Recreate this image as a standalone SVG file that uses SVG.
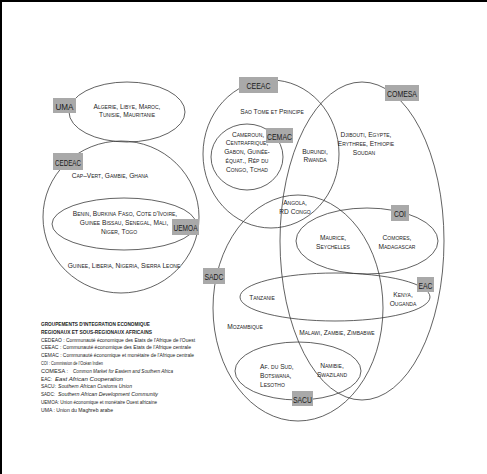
<svg xmlns="http://www.w3.org/2000/svg" width="487" height="474" viewBox="0 0 487 474">
<style>
.e{fill:none;stroke:#3a3a3a;stroke-width:0.8}
.b{fill:#a9a9a9}
.bl{font-family:"Liberation Sans Narrow","Liberation Sans",Arial,sans-serif;font-size:9.5px;fill:#1a1a1a;text-anchor:middle}
.c{font-family:"Liberation Sans","Arial",sans-serif;font-size:6.6px;font-variant:small-caps;fill:#222;text-anchor:middle}
.cl{text-anchor:start}
.lg{font-family:"Liberation Sans Narrow","Liberation Sans",Arial,sans-serif;font-size:6px;fill:#222}
.bo{font-weight:bold}
.it{font-style:italic}
</style>
<rect x="0" y="0" width="487" height="474" fill="#fff"/>
<path d="M1 474V1H487" fill="none" stroke="#000" stroke-width="2"/>
<g id="connectors"/>
<g id="uma">
<ellipse class="e" cx="127" cy="112" rx="58" ry="30"/>
<rect class="b" x="53" y="98" width="23" height="15"/>
<text class="bl" x="64.5" y="109.5" textLength="18" lengthAdjust="spacingAndGlyphs">UMA</text>
<text class="c" x="127" y="109">Algerie, Libye, Maroc,</text>
<text class="c" x="127" y="117">Tunisie, Mauritanie</text>
</g>
<g id="cedeac">
<ellipse class="e" cx="121" cy="217" rx="78" ry="76"/>
<rect class="b" x="53" y="153" width="30" height="17"/>
<text class="bl" x="68" y="165.5" textLength="26" lengthAdjust="spacingAndGlyphs">CEDEAC</text>
<text class="c" x="110" y="178">Cap–Vert, Gambie, Ghana</text>
<text class="c" x="124" y="268">Guinee, Liberia, Nigeria, Sierra Leone</text>
</g>
<g id="uemoa">
<ellipse class="e" cx="124" cy="224" rx="72" ry="26"/>
<rect class="b" x="172" y="219" width="27" height="16"/>
<text class="bl" x="185.5" y="231" textLength="24" lengthAdjust="spacingAndGlyphs">UEMOA</text>
<text class="c" x="125" y="216">Benin, Burkina Faso, Cote d'Ivoire,</text>
<text class="c" x="124" y="225">Guinee Bissau, Senegal, Mali,</text>
<text class="c" x="119" y="234">Niger, Togo</text>
</g>
<g id="ceeac">
<ellipse class="e" cx="271" cy="154" rx="68" ry="74"/>
<rect class="b" x="239" y="77" width="39" height="16"/>
<text class="bl" x="258.5" y="88.5" textLength="24" lengthAdjust="spacingAndGlyphs">CEEAC</text>
<text class="c" x="272" y="114">Sao Tome et Principe</text>
<text class="c" x="315" y="153.5">Burundi,</text>
<text class="c" x="315" y="162">Rwanda</text>
<text class="c" x="295" y="205">Angola,</text>
<text class="c" x="295" y="214">RD Congo</text>
</g>
<g id="cemac">
<ellipse class="e" cx="247" cy="157" rx="36" ry="33"/>
<rect class="b" x="266" y="128" width="27" height="15"/>
<text class="bl" x="279.5" y="139.5" textLength="25" lengthAdjust="spacingAndGlyphs">CEMAC</text>
<text class="c" x="248" y="136.5">Cameroun,</text>
<text class="c" x="247" y="145.3">Centrafrique,</text>
<text class="c" x="247" y="154.1">Gabon, Guinée-</text>
<text class="c" x="247" y="162.9">équat., Rép du</text>
<text class="c" x="247" y="171.7">Congo, Tchad</text>
</g>
<g id="comesa">
<ellipse class="e" cx="362" cy="241" rx="82" ry="159"/>
<rect class="b" x="385" y="85" width="34" height="16"/>
<text class="bl" x="402" y="96.5" textLength="30" lengthAdjust="spacingAndGlyphs">COMESA</text>
<text class="c" x="366" y="137">Djibouti, Egypte,</text>
<text class="c" x="366" y="146">Erythree, Ethiopie</text>
<text class="c" x="364" y="155">Soudan</text>
</g>
<g id="sadc">
<ellipse class="e" cx="298" cy="308" rx="85" ry="113"/>
<rect class="b" x="203" y="268" width="22" height="16"/>
<text class="bl" x="214" y="279.5" textLength="19" lengthAdjust="spacingAndGlyphs">SADC</text>
<text class="c" x="245" y="329">Mozambique</text>
<text class="c" x="337" y="335">Malawi, Zambie, Zimbabwe</text>
</g>
<g id="coi">
<ellipse class="e" cx="367" cy="241" rx="71" ry="33"/>
<rect class="b" x="391" y="205" width="18" height="16"/>
<text class="bl" x="400" y="216.5" textLength="12" lengthAdjust="spacingAndGlyphs">COI</text>
<text class="c" x="333" y="240">Maurice,</text>
<text class="c" x="333" y="249">Seychelles</text>
<text class="c" x="397" y="240">Comores,</text>
<text class="c" x="397" y="249">Madagascar</text>
</g>
<g id="eac">
<ellipse class="e" cx="335" cy="297" rx="95" ry="24"/>
<rect class="b" x="417" y="277" width="17" height="15"/>
<text class="bl" x="425.5" y="288.5" textLength="14" lengthAdjust="spacingAndGlyphs">EAC</text>
<text class="c" x="262" y="300">Tanzanie</text>
<text class="c" x="403" y="297">Kenya,</text>
<text class="c" x="403" y="306">Ouganda</text>
</g>
<g id="sacu">
<ellipse class="e" cx="298" cy="371" rx="63" ry="29"/>
<rect class="b" x="292" y="391" width="21" height="15"/>
<text class="bl" x="302.5" y="402.5" textLength="19" lengthAdjust="spacingAndGlyphs">SACU</text>
<text class="c cl" x="260" y="369">Af. du Sud,</text>
<text class="c cl" x="260" y="378">Botswana,</text>
<text class="c cl" x="260" y="386.5">Lesotho</text>
<text class="c" x="332" y="368">Namibie,</text>
<text class="c" x="332" y="377">Swaziland</text>
</g>
<g id="legend">
<text class="lg bo" x="41" y="326" textLength="109" lengthAdjust="spacingAndGlyphs">GROUPEMENTS D'INTEGRATION ECONOMIQUE</text>
<text class="lg bo" x="41" y="333.8" textLength="111" lengthAdjust="spacingAndGlyphs">REGIONAUX ET SOUS-REGIONAUX AFRICAINS</text>
<text class="lg" x="41" y="341.6" textLength="154" lengthAdjust="spacingAndGlyphs">CEDEAO : Communauté économique des Etats de l'Afrique de l'Ouest</text>
<text class="lg" x="41" y="349.4" textLength="150" lengthAdjust="spacingAndGlyphs">CEEAC : Communauté économique des Etats de l'Afrique centrale</text>
<text class="lg" x="41" y="357.2" textLength="153" lengthAdjust="spacingAndGlyphs">CEMAC : Communauté économique et monétaire de l'Afrique centrale</text>
<text class="lg" x="41" y="365" textLength="62" lengthAdjust="spacingAndGlyphs">COI : Commission de l'Océan Indien</text>
<text class="lg" x="41" y="372.8" textLength="27" lengthAdjust="spacingAndGlyphs">COMESA :</text>
<text class="lg it" x="73" y="372.8" textLength="100" lengthAdjust="spacingAndGlyphs">Common Market for Eastern and Southern Africa</text>
<text class="lg" x="41" y="380.6" textLength="11" lengthAdjust="spacingAndGlyphs">EAC:</text>
<text class="lg it" x="55" y="380.6" textLength="68" lengthAdjust="spacingAndGlyphs">East African Cooperation</text>
<text class="lg" x="41" y="388.4" textLength="15" lengthAdjust="spacingAndGlyphs">SACU:</text>
<text class="lg it" x="58" y="388.4" textLength="74" lengthAdjust="spacingAndGlyphs">Southern African Customs Union</text>
<text class="lg" x="41" y="396.2" textLength="14" lengthAdjust="spacingAndGlyphs">SADC:</text>
<text class="lg it" x="58" y="396.2" textLength="100" lengthAdjust="spacingAndGlyphs">Southern African Development Community</text>
<text class="lg" x="41" y="404" textLength="116" lengthAdjust="spacingAndGlyphs">UEMOA: Union économique et monétaire Ouest africaine</text>
<text class="lg" x="41" y="411.8" textLength="72" lengthAdjust="spacingAndGlyphs">UMA : Union du Maghreb arabe</text>
</g>
</svg>
